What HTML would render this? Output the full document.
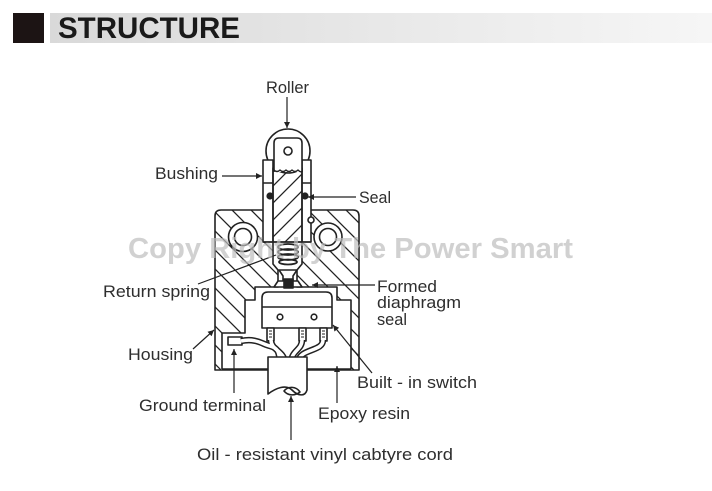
<!DOCTYPE html>
<html><head><meta charset="utf-8"><style>
html,body{margin:0;padding:0;background:#fff;}
svg{display:block;}
text{font-family:"Liberation Sans",Arial,sans-serif;}
</style></head><body>
<svg width="712" height="491" viewBox="0 0 712 491" xmlns="http://www.w3.org/2000/svg">
<defs>
<linearGradient id="bar" x1="0" x2="1" y1="0" y2="0">
<stop offset="0" stop-color="#d9d9d9"/><stop offset="0.6" stop-color="#ebebeb"/><stop offset="1" stop-color="#f6f6f6"/>
</linearGradient>
<pattern id="hatch" patternUnits="userSpaceOnUse" width="19" height="19" x="3" y="0">
<path d="M-4,-4 L23,23 M-4,15 L4,23 M15,-4 L23,4" stroke="#222" stroke-width="1.3"/>
</pattern>
<pattern id="hatch2" patternUnits="userSpaceOnUse" width="17" height="17">
<path d="M-4,21 L21,-4 M-4,4 L4,-4 M13,21 L21,13" stroke="#222" stroke-width="1.3"/>
</pattern>
<marker id="ah" viewBox="0 0 10 10" refX="10" refY="5" markerWidth="8" markerHeight="6" orient="auto" markerUnits="userSpaceOnUse">
<path d="M0,0 L10,5 L0,10 z" fill="#222"/>
</marker>
</defs>

<!-- header -->
<rect x="13" y="13" width="31" height="30" fill="#1c1414"/>
<rect x="50" y="13" width="662" height="30" fill="url(#bar)"/>
<text x="58" y="38" font-size="30" font-weight="bold" fill="#1a1a1a" textLength="182" lengthAdjust="spacingAndGlyphs">STRUCTURE</text>

<g stroke="#222" stroke-width="1.6" fill="none" stroke-linejoin="round">
<!-- hatched housing body -->
<path fill="url(#hatch)" stroke="none" fill-rule="evenodd"
 d="M215,216 Q215,210 221,210 H353 Q359,210 359,216 V370 H215 Z
    M263,210 V242 H273 V264 L278,270 V287 H255 V300 H245 V333 H222 V369 H351 V300 H337 V287 H297 V270 L302,264 V242 H311 V210 Z"/>
<!-- housing outline -->
<path d="M263,210 H221 Q215,210 215,216 V370 H359 V216 Q359,210 353,210 H311"/>
<!-- cavity outline -->
<path d="M273,242 V264 L278,270 V287 H255 V300 H245 V333 H222 V369 M351,369 V300 H337 V287 H297 V270 L302,264 V242"/>
<path d="M222,369 H351"/>

<!-- holes -->
<circle cx="243" cy="237" r="14.5" fill="#fff"/>
<circle cx="243" cy="237" r="8.5" fill="#fff"/>
<circle cx="328" cy="237" r="14" fill="#fff"/>
<circle cx="328" cy="237" r="8.5" fill="#fff"/>

<!-- roller -->
<circle cx="288" cy="151" r="22" fill="#fff"/>
<!-- bushing walls -->
<rect x="263" y="160" width="10" height="82" fill="#fff"/>
<rect x="302" y="160" width="9" height="82" fill="#fff"/>
<path d="M263,183 H273 M302,183 H311"/>
<!-- plunger -->
<rect x="273" y="168" width="29" height="74" fill="url(#hatch2)"/>
<path d="M273,242 H302 M263,242 H311"/>
<!-- roller bracket -->
<path d="M274,172 V143 Q274,138 279,138 H297 Q302,138 302,143 V172" fill="#fff"/>
<path d="M274,170 q3,3 6,0 q3,3 6,0 q3,3 6,0 q3,3 6,0 q3,3 4,1" stroke-width="1.3"/>
<circle cx="288" cy="151" r="4"/>
<!-- seals -->
<circle cx="270" cy="196" r="2.8" fill="#222"/>
<circle cx="305" cy="196" r="2.8" fill="#222"/>
<circle cx="311" cy="220" r="3" fill="#fff"/>

<!-- spring -->
<rect x="274" y="243" width="27" height="20" fill="#fff" stroke="none"/>
<ellipse cx="288" cy="247" rx="10" ry="3" stroke-width="1.8"/>
<ellipse cx="288" cy="252" rx="10" ry="3" stroke-width="1.8"/>
<ellipse cx="288" cy="257" rx="10" ry="3" stroke-width="1.8"/>
<ellipse cx="288" cy="262" rx="9" ry="2.5" stroke-width="1.8"/>

<!-- actuator -->
<path d="M279,270 H297 L293,276 V281 H298 L302,287 H274 L278,281 H283 V276 Z" fill="#fff"/>
<rect x="284" y="279" width="9" height="9" fill="#222"/>

<!-- switch -->
<path d="M262,328 V298 Q262,292 268,292 H326 Q332,292 332,298 V328 Z" fill="#fff"/>
<path d="M262,307 H332"/>
<circle cx="280" cy="317" r="2.8"/>
<circle cx="314" cy="317" r="2.8"/>

<!-- terminals -->
<rect x="267" y="328" width="7" height="13" fill="#fff"/>
<rect x="299" y="328" width="7" height="13" fill="#fff"/>
<rect x="320" y="328" width="7" height="13" fill="#fff"/>
<path d="M269,331 h3 M269,334 h3 M269,337 h3 M301,331 h3 M301,334 h3 M301,337 h3 M322,331 h3 M322,334 h3 M322,337 h3" stroke-width="1"/>

<!-- ground terminal -->
<rect x="228" y="337" width="14" height="8" fill="#fff"/>

<!-- wires -->
<g stroke-width="6.5" stroke="#222">
<path d="M241,341 C256,338 262,344 270,346 C278,348 279,352 280,362"/>
<path d="M271,340 C271,350 283,350 285,362"/>
<path d="M302,340 C302,350 292,350 291,362"/>
<path d="M323,340 C323,352 300,348 298,362"/>
</g>
<g stroke-width="3.5" stroke="#fff">
<path d="M241,341 C256,338 262,344 270,346 C278,348 279,352 280,362"/>
<path d="M271,340 C271,350 283,350 285,362"/>
<path d="M302,340 C302,350 292,350 291,362"/>
<path d="M323,340 C323,352 300,348 298,362"/>
</g>

<!-- cord -->
<path d="M268,357 H307 V390 C305,397 298,396 292,390 C286,384 276,388 268,394 Z" fill="#fff"/>
<path d="M284,391 C288,386 296,386 300,392 C295,396 288,396 284,391 Z"/>
</g>

<!-- leader lines -->
<g stroke="#222" stroke-width="1.2" fill="none">
<path d="M287,97 V128" marker-end="url(#ah)"/>
<path d="M222,176 H262" marker-end="url(#ah)"/>
<path d="M356,197 H308" marker-end="url(#ah)"/>
<path d="M198,284 L276,255"/>
<path d="M375,285 H312" marker-end="url(#ah)"/>
<path d="M193,349 L214,330" marker-end="url(#ah)"/>
<path d="M372,373 L333,325" marker-end="url(#ah)"/>
<path d="M234,393 V349" marker-end="url(#ah)"/>
<path d="M337,403 V366" marker-end="url(#ah)"/>
<path d="M291,440 V396" marker-end="url(#ah)"/>
</g>

<!-- labels -->
<g font-size="17" fill="#2e2e2e">
<text x="266" y="93" textLength="43" lengthAdjust="spacingAndGlyphs">Roller</text>
<text x="155" y="179" textLength="63" lengthAdjust="spacingAndGlyphs">Bushing</text>
<text x="359" y="203" textLength="32" lengthAdjust="spacingAndGlyphs">Seal</text>
<text x="103" y="297" textLength="107" lengthAdjust="spacingAndGlyphs">Return spring</text>
<text x="377" y="292" textLength="60" lengthAdjust="spacingAndGlyphs">Formed</text>
<text x="377" y="308" textLength="84" lengthAdjust="spacingAndGlyphs">diaphragm</text>
<text x="377" y="325" textLength="30" lengthAdjust="spacingAndGlyphs">seal</text>
<text x="128" y="360" textLength="65" lengthAdjust="spacingAndGlyphs">Housing</text>
<text x="357" y="388" textLength="120" lengthAdjust="spacingAndGlyphs">Built - in switch</text>
<text x="139" y="411" textLength="127" lengthAdjust="spacingAndGlyphs">Ground terminal</text>
<text x="318" y="419" textLength="92" lengthAdjust="spacingAndGlyphs">Epoxy resin</text>
<text x="197" y="460" textLength="256" lengthAdjust="spacingAndGlyphs">Oil - resistant vinyl cabtyre cord</text>
</g>

<!-- watermark -->
<text x="128" y="258" font-size="29" font-weight="bold" fill="#bdbdbd" fill-opacity="0.7" textLength="445" lengthAdjust="spacingAndGlyphs">Copy Right by The Power Smart</text>
</svg>
</body></html>
